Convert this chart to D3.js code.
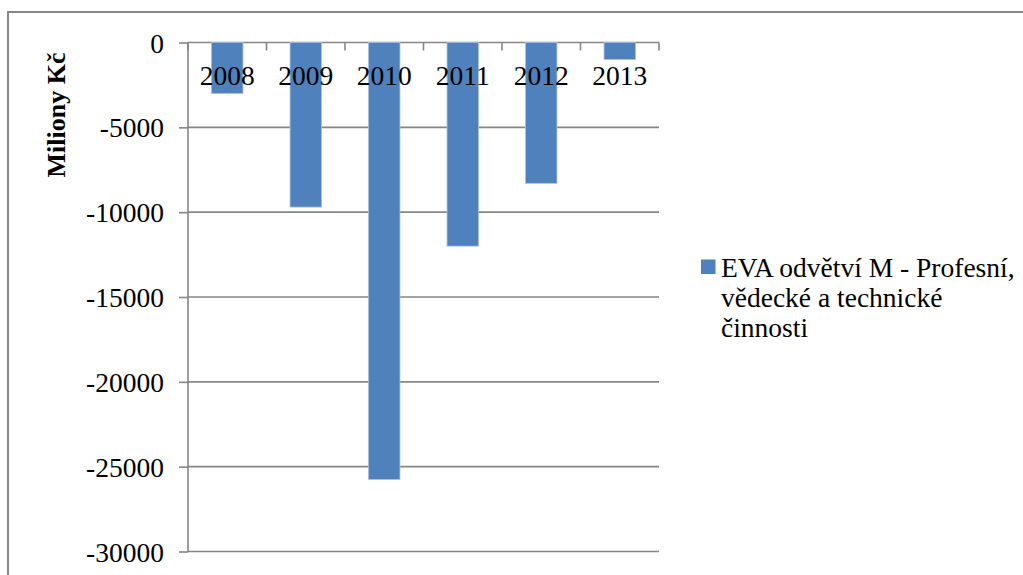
<!DOCTYPE html>
<html>
<head>
<meta charset="utf-8">
<script src="https://cdn.jsdelivr.net/npm/d3@7"></script>
<style>
  body { margin: 0; background: #fff; }
  text { font-family: "Liberation Serif", serif; fill: #000; }
</style>
</head>
<body>
<div id="chart"></div>
<script>
var years = ["2008", "2009", "2010", "2011", "2012", "2013"];
var eva = [-3000, -9700, -25750, -12000, -8300, -1000];
var yTicks = [0, -5000, -10000, -15000, -20000, -25000, -30000];
var seriesName = ["EVA odvětví M - Profesní,", "vědecké a technické", "činnosti"];

let svg = d3.select('#chart').append('svg')
  .attr('width', 1023)
  .attr('height', 575);

// outer frame (runs off the picture to the right and bottom)
svg.append('rect')
  .attr('x', 8).attr('y', 12)
  .attr('width', 1100).attr('height', 700)
  .attr('fill', 'none')
  .attr('stroke', '#868686')
  .attr('stroke-width', 2);

let xScale = d3.scaleBand().domain(years).range([188, 659]).paddingInner(0.6).paddingOuter(0.3);
let yScale = d3.scaleLinear().domain([-30000, 0]).range([551.5, 42.5]);

// gridlines
svg.append('g').attr('class', 'grid')
  .selectAll('line').data(yTicks).enter()
  .append('line')
  .attr('x1', 188).attr('x2', 659)
  .attr('y1', (d)=> yScale(d)).attr('y2', (d)=> yScale(d))
  .attr('stroke', '#868686')
  .attr('stroke-width', 1.6);

// y axis
let yAxis = d3.axisLeft(yScale).tickValues(yTicks).tickSize(9).tickPadding(15).tickFormat(d3.format('d'));
let y = svg.append('g').attr('class', 'yAxis')
  .attr('transform', 'translate(188, 0)')
  .call(yAxis);
y.select('.domain').remove();
y.selectAll('line').attr('stroke', '#868686').attr('stroke-width', 1.6);
y.selectAll('text').style('font-size', '27.5px').style('font-family', '"Liberation Serif", serif')
  .attr('dy', '0.35em').text((d)=> d === 0 ? '0' : '-' + Math.abs(d));
svg.append('line')
  .attr('x1', 188).attr('x2', 188)
  .attr('y1', yScale(0)).attr('y2', yScale(-30000))
  .attr('stroke', '#868686').attr('stroke-width', 1.6);

// bars
svg.append('g').attr('class', 'bars')
  .selectAll('rect').data(eva).enter()
  .append('rect')
  .attr('x', (d, i)=> xScale(years[i]))
  .attr('y', yScale(0))
  .attr('width', xScale.bandwidth())
  .attr('height', (d)=> yScale(d) - yScale(0))
  .attr('fill', '#4f81bd')
  .attr('stroke', '#a7bfe0')
  .attr('stroke-width', 0.8);

// x axis on zero line, ticks pointing down
let step = xScale.step();
let xTickPos = d3.range(years.length + 1).map((i)=> 188 + i * step);
svg.append('g').attr('class', 'xTicks')
  .selectAll('line').data(xTickPos).enter()
  .append('line')
  .attr('x1', (d)=> d).attr('x2', (d)=> d)
  .attr('y1', yScale(0)).attr('y2', yScale(0) + 8)
  .attr('stroke', '#868686').attr('stroke-width', 1.6);

svg.append('g').attr('class', 'xLabels')
  .selectAll('text').data(years).enter()
  .append('text')
  .attr('x', (d)=> xScale(d) + xScale.bandwidth() / 2)
  .attr('y', 85)
  .attr('text-anchor', 'middle')
  .style('font-size', '27.5px')
  .text((d)=> d);

// y title
svg.append('text')
  .attr('transform', 'translate(65, 115) rotate(-90)')
  .attr('text-anchor', 'middle')
  .style('font-size', '26px')
  .style('font-weight', 'bold')
  .text('Miliony Kč');

// legend
let legend = svg.append('g').attr('class', 'legend');
legend.append('rect')
  .attr('x', 701).attr('y', 259.5)
  .attr('width', 14.5).attr('height', 14.5)
  .attr('fill', '#4f81bd');
legend.selectAll('text').data(seriesName).enter()
  .append('text')
  .attr('x', 721)
  .attr('y', (d, i)=> 276.5 + i * 30.2)
  .style('font-size', '27.5px')
  .text((d)=> d);
</script>
</body>
</html>
